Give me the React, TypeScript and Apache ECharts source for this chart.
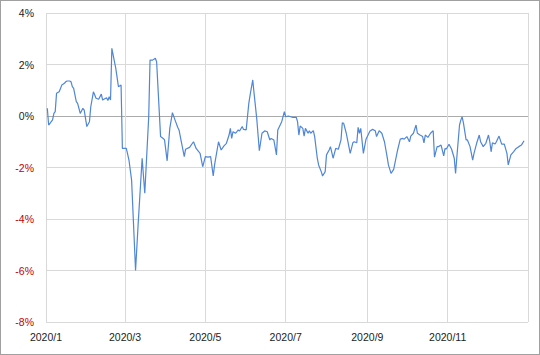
import React, { useEffect, useRef } from "react";
import * as echarts from "echarts";

const dates: string[] = [
  "2020-01-02","2020-01-03","2020-01-06","2020-01-07","2020-01-08","2020-01-09","2020-01-11","2020-01-12","2020-01-13","2020-01-15",
  "2020-01-16","2020-01-17","2020-01-19","2020-01-20","2020-01-21","2020-01-22","2020-01-24","2020-01-25","2020-01-26","2020-01-27",
  "2020-01-29","2020-01-30","2020-02-01","2020-02-03","2020-02-04","2020-02-06","2020-02-08","2020-02-10","2020-02-12","2020-02-13",
  "2020-02-16","2020-02-17","2020-02-18","2020-02-19","2020-02-20","2020-02-23","2020-02-25","2020-02-27","2020-02-28","2020-03-02",
  "2020-03-04","2020-03-06","2020-03-09","2020-03-11","2020-03-14","2020-03-16","2020-03-19","2020-03-20","2020-03-22","2020-03-24",
  "2020-03-25","2020-03-28","2020-03-30","2020-03-31","2020-04-02","2020-04-04","2020-04-06","2020-04-08","2020-04-10","2020-04-11",
  "2020-04-13","2020-04-15","2020-04-16","2020-04-19","2020-04-22","2020-04-24","2020-04-27","2020-04-29","2020-05-01","2020-05-03",
  "2020-05-05","2020-05-07","2020-05-08","2020-05-11","2020-05-13","2020-05-15","2020-05-17","2020-05-19","2020-05-20","2020-05-21",
  "2020-05-22","2020-05-24","2020-05-26","2020-05-27","2020-05-29","2020-05-30","2020-06-01","2020-06-03","2020-06-04","2020-06-06",
  "2020-06-07","2020-06-09","2020-06-11","2020-06-13","2020-06-15","2020-06-17","2020-06-19","2020-06-20","2020-06-22","2020-06-24",
  "2020-06-25","2020-06-28","2020-06-30","2020-07-01","2020-07-03","2020-07-06","2020-07-09","2020-07-10","2020-07-11","2020-07-12",
  "2020-07-14","2020-07-15","2020-07-16","2020-07-18","2020-07-19","2020-07-20","2020-07-22","2020-07-23","2020-07-25","2020-07-26",
  "2020-07-28","2020-07-29","2020-07-31","2020-08-01","2020-08-03","2020-08-04","2020-08-06","2020-08-08","2020-08-10","2020-08-12",
  "2020-08-13","2020-08-14","2020-08-16","2020-08-17","2020-08-19","2020-08-21","2020-08-22","2020-08-24","2020-08-25","2020-08-26",
  "2020-08-27","2020-08-29","2020-08-31","2020-09-03","2020-09-05","2020-09-07","2020-09-08","2020-09-10","2020-09-12","2020-09-14",
  "2020-09-16","2020-09-17","2020-09-19","2020-09-21","2020-09-24","2020-09-26","2020-09-28","2020-09-29","2020-10-01","2020-10-03",
  "2020-10-04","2020-10-06","2020-10-08","2020-10-09","2020-10-11","2020-10-13","2020-10-14","2020-10-15","2020-10-17","2020-10-19",
  "2020-10-21","2020-10-22","2020-10-24","2020-10-25","2020-10-27","2020-10-29","2020-10-30","2020-10-31","2020-11-02","2020-11-04",
  "2020-11-06","2020-11-07","2020-11-08","2020-11-10","2020-11-11","2020-11-12","2020-11-13","2020-11-15","2020-11-16","2020-11-18",
  "2020-11-20","2020-11-21","2020-11-23","2020-11-25","2020-11-26","2020-11-28","2020-11-30","2020-12-02","2020-12-03","2020-12-04",
  "2020-12-05","2020-12-07","2020-12-08","2020-12-10","2020-12-12","2020-12-14","2020-12-16","2020-12-17","2020-12-19","2020-12-21",
  "2020-12-23","2020-12-25","2020-12-27","2020-12-29"
];

const values: number[] = [
  0.30,-0.35,-0.15,0.10,0.17,0.88,0.94,1.07,1.20,1.27,
  1.33,1.36,1.36,1.33,1.14,1.07,0.56,0.49,0.30,0.10,
  0.30,0.23,-0.41,-0.22,0.36,0.94,0.69,0.65,0.85,0.62,
  0.71,0.60,0.75,0.62,2.63,1.85,1.14,1.20,-1.26,-1.26,
  -1.71,-2.49,-6.00,-4.17,-1.64,-3.00,-0.03,2.17,2.17,2.24,
  2.11,-0.80,-0.87,-0.93,-1.74,-0.48,0.13,-0.16,-0.44,-0.54,
  -1.06,-1.58,-1.29,-1.22,-1.00,-1.26,-1.45,-1.97,-1.58,-1.60,
  -1.58,-2.33,-1.90,-1.00,-1.32,-1.17,-1.06,-0.74,-0.48,-0.87,
  -0.61,-0.67,-0.54,-0.58,-0.41,-0.52,-0.54,0.49,0.82,1.40,
  0.88,-0.09,-1.35,-0.67,-0.58,-0.61,-0.93,-0.87,-0.93,-1.51,
  -0.54,-0.22,0.17,-0.03,0.00,-0.05,-0.05,-0.22,-0.74,-0.39,
  -0.48,-0.78,-0.48,-0.67,-0.57,-0.67,-0.57,-0.80,-1.64,-1.90,
  -2.16,-2.33,-2.16,-1.51,-1.32,-1.19,-1.64,-1.26,-1.29,-0.93,
  -0.26,-0.28,-0.67,-0.93,-1.45,-1.04,-1.00,-1.04,-0.44,-0.67,
  -0.48,-1.45,-0.90,-0.58,-0.52,-0.57,-0.80,-0.57,-0.67,-1.00,
  -1.58,-1.90,-2.23,-2.07,-1.32,-0.90,-0.87,-0.90,-0.80,-1.00,
  -0.78,-0.67,-0.35,-0.67,-0.74,-0.80,-1.04,-0.74,-0.83,-0.67,
  -0.57,-1.60,-1.19,-1.19,-1.13,-1.55,-1.26,-1.28,-1.10,-1.29,
  -1.64,-2.23,-1.58,-0.35,-0.16,-0.03,-0.28,-0.93,-0.93,-1.19,
  -1.71,-1.45,-1.06,-0.74,-1.00,-1.19,-1.06,-0.74,-1.00,-1.39,
  -1.04,-1.09,-1.00,-0.78,-1.09,-1.09,-1.45,-1.90,-1.51,-1.39,
  -1.26,-1.19,-1.13,-0.96
];

const xLabelMonths: string[] = ["2020-01-01","2020-03-01","2020-05-01","2020-07-01","2020-09-01","2020-11-01"];
const xGridMonths: string[] = [...xLabelMonths, "2021-01-01"];
const yMin = -8;
const yMax = 4;
const yStep = 2;

const FONT = "'Liberation Sans', Arial, sans-serif";

function toTs(s: string): number {
  const [y, m, d] = s.split("-").map(Number);
  return new Date(y, m - 1, d).getTime();
}

export default function App() {
  const ref = useRef<HTMLDivElement>(null);

  useEffect(() => {
    if (!ref.current) return;
    const chart = echarts.init(ref.current, undefined, { renderer: "svg" });
    const seriesData = dates.map((d, i) => [toTs(d), values[i]]);
    const gridColors: string[] = [];
    for (let v = yMin; v <= yMax; v += yStep) gridColors.push(v === 0 ? "#ababab" : "#d9d9d9");

    chart.setOption({
      animation: false,
      backgroundColor: "#ffffff",
      grid: { left: 46, right: 12, top: 13, bottom: 33, containLabel: false },
      xAxis: {
        type: "value",
        min: toTs("2020-01-01"),
        max: toTs("2021-01-01"),
        axisLine: { show: false, onZero: false },
        axisTick: { show: false, customValues: xGridMonths.map(toTs) },
        splitLine: { show: true, lineStyle: { color: "#d9d9d9", width: 1 } },
        axisLabel: {
          customValues: xLabelMonths.map(toTs),
          formatter: (val: number) => {
            const d = new Date(val);
            return `${d.getFullYear()}/${d.getMonth() + 1}`;
          },
          color: "#222222",
          fontFamily: FONT,
          fontSize: 10.5,
          margin: 9,
          showMinLabel: true,
          showMaxLabel: true,
          hideOverlap: false,
        },
      },
      yAxis: {
        type: "value",
        min: yMin,
        max: yMax,
        interval: yStep,
        axisLine: { show: false },
        axisTick: { show: false },
        splitLine: { show: true, lineStyle: { color: gridColors, width: 1 } },
        axisLabel: {
          formatter: "{value}%",
          color: (v: any) => (Number(v) < 0 ? "#c00000" : "#222222"),
          fontFamily: FONT,
          fontSize: 10.5,
          margin: 12,
        },
      },
      series: [
        {
          type: "line",
          data: seriesData,
          showSymbol: false,
          symbol: "none",
          lineStyle: { color: "#4f86d6", width: 1.2 },
          itemStyle: { color: "#4f86d6" },
        },
      ],
    });
    return () => chart.dispose();
  }, []);

  return (
    <div style={{ position: "fixed", left: 0, top: 0, width: 540, height: 355, background: "#fff" }}>
      <div ref={ref} style={{ position: "absolute", left: 0, top: 0, width: 540, height: 355 }} />
      <div
        style={{
          position: "absolute",
          left: 0,
          top: 0,
          width: 540,
          height: 355,
          boxSizing: "border-box",
          border: "1px solid #a0a0a0",
          pointerEvents: "none",
        }}
      />
    </div>
  );
}
